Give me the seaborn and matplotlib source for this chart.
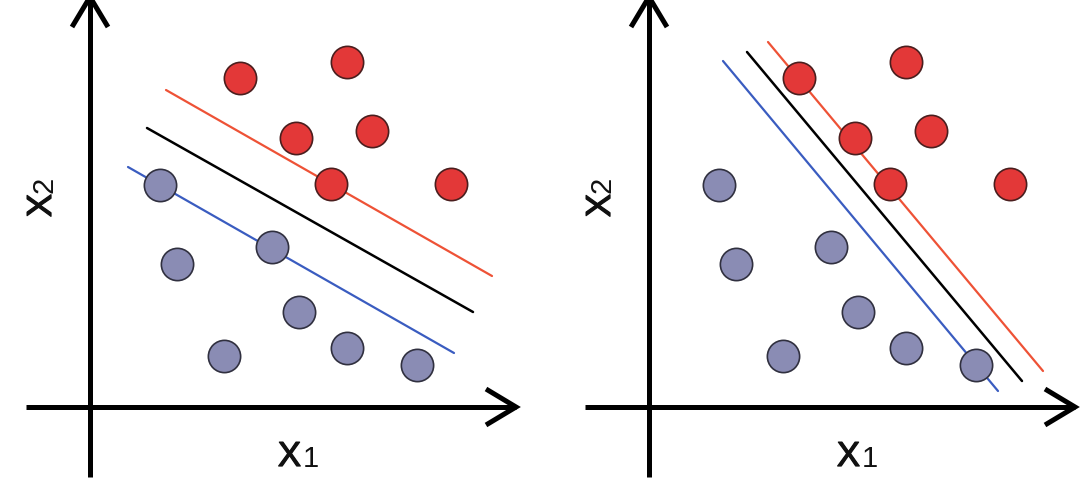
import numpy as np
import pandas as pd
import matplotlib
matplotlib.use("Agg")
import matplotlib.pyplot as plt
import matplotlib.patheffects as pe
import seaborn as sns

# ---- data (panel coordinates, origin at the axes crossing) ----
red_x = [150, 257, 206, 282, 241, 361]
red_y = [329, 345, 269, 276, 223, 223]
blue_x = [70, 87, 182, 209, 134, 257, 327]
blue_y = [222, 143, 160, 95, 51, 59, 42]

# margin lines (x0, y0, x1, y1) for each panel: upper (red), separator (black), lower (blue)
left_red = [76, 317, 402, 131]
left_black = [57, 279, 383, 95]
left_blue = [38, 240, 364, 54]
right_red = [119, 365, 394, 36]
right_black = [98, 355, 373, 26]
right_blue = [74, 346, 349, 16]

xlabel_main, xlabel_sub = "X", "1"
ylabel_main, ylabel_sub = "X", "2"

points = pd.DataFrame({
    "x1": red_x + blue_x,
    "x2": red_y + blue_y,
    "cls": ["red"] * len(red_x) + ["blue"] * len(blue_x),
})

sns.set_theme(style="white")
plt.rcParams["font.family"] = ["Liberation Sans", "DejaVu Sans"]

fig = plt.figure(figsize=(10.8, 4.81), dpi=100)
axes = [fig.add_axes([0, 0, 0.5, 1]), fig.add_axes([0.5, 0, 0.5, 1])]
origins_px = [90, 109]
panels = [(left_red, left_black, left_blue), (right_red, right_black, right_blue)]

RED_FILL, RED_EDGE = "#E33838", "#4A1E1E"
BLUE_FILL, BLUE_EDGE = "#8A8CB4", "#30303F"
thick = [pe.withStroke(linewidth=0.9, foreground="#111111")]

for ax, ox, lines in zip(axes, origins_px, panels):
    ax.set_xlim(-ox, 540 - ox)
    ax.set_ylim(-73, 408)
    ax.set_axis_off()

    # axes arrows
    ax.plot([-64, 426], [0, 0], color="black", lw=3.6, solid_capstyle="butt", zorder=1)
    ax.plot([0, 0], [-70, 410], color="black", lw=3.6, solid_capstyle="butt", zorder=1)
    ax.plot([396, 426, 396], [18, 0, -18], color="black", lw=3.6,
            solid_joinstyle="miter", solid_capstyle="butt", zorder=1)
    ax.plot([-18, 0, 18], [380, 410, 380], color="black", lw=3.6,
            solid_joinstyle="miter", solid_capstyle="butt", zorder=1)

    # margin lines
    for seg, col, lw in zip(lines, ["#EE5236", "black", "#3A5CC0"], [1.6, 1.8, 1.6]):
        ax.plot([seg[0], seg[2]], [seg[1], seg[3]], color=col, lw=lw, zorder=2)

    # points
    sns.scatterplot(data=points[points.cls == "red"], x="x1", y="x2", ax=ax,
                    color=RED_FILL, edgecolor=RED_EDGE, linewidth=1.2, s=540,
                    legend=False, zorder=3)
    sns.scatterplot(data=points[points.cls == "blue"], x="x1", y="x2", ax=ax,
                    color=BLUE_FILL, edgecolor=BLUE_EDGE, linewidth=1.2, s=540,
                    legend=False, zorder=3)

    # labels
    ax.text(211, -59, xlabel_main, fontsize=25, ha="right", va="baseline", color="#111111",
            path_effects=thick)
    ax.text(213, -59, xlabel_sub, fontsize=21, ha="left", va="baseline", color="#111111")
    ax.text(-32, 213, ylabel_main, fontsize=25, rotation=90, ha="right", va="bottom",
            color="#111111", rotation_mode="anchor", path_effects=thick)
    ax.text(-32, 215, ylabel_sub, fontsize=21, rotation=90, ha="left", va="bottom",
            color="#111111", rotation_mode="anchor")
    ax.set_xlabel("")
    ax.set_ylabel("")

fig.savefig("out.png", dpi=100, facecolor="white")
